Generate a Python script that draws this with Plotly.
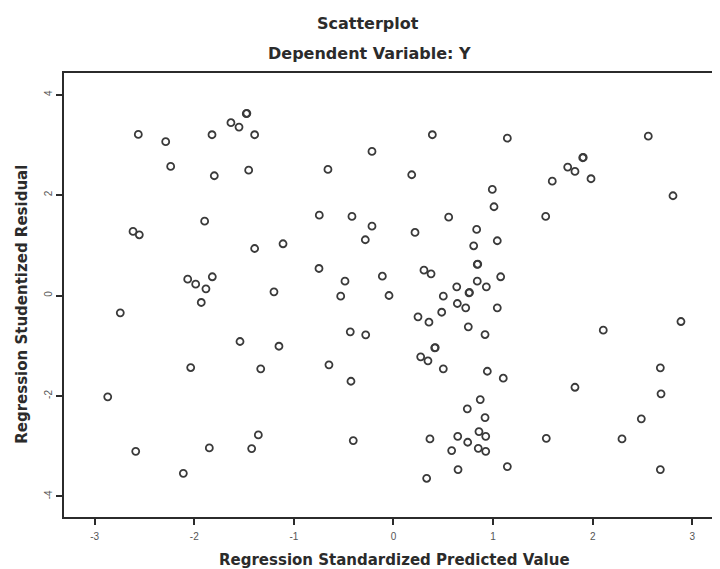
import plotly.graph_objects as go

# Regression Standardized Predicted Value (x) and Studentized Residual (y)
predicted = [
    -2.562, -2.287, -2.237, -1.822, -1.799, -1.632, -1.551, -1.478, -1.472, -1.394,
    -1.454, -1.896, -2.615, -2.552, -1.394, -2.066, -1.986, -1.883, -1.819, -1.200,
    -1.930, -2.743, -1.541, -2.036, -1.333, -1.150, -2.869, -2.588, -1.849, -1.424,
    -1.357, -2.110, 0.390, -0.216, -0.658, 0.183, -0.745, -0.417, -0.216, -0.283,
    0.216, 0.554, 0.835, 0.805, 0.841, 0.846, 0.306, 0.377, -1.109, -0.748,
    -0.487, -0.112, 0.841, 0.635, 0.758, 0.763, 0.932, 0.500, -0.530, -0.045,
    0.641, 0.725, 0.484, 0.246, 0.356, 0.751, 0.919, -0.434, -0.279, -0.648,
    -0.427, 0.414, 0.419, 0.273, 0.346, 0.500, 0.942, -0.404, 0.871, 0.741,
    0.919, 0.858, 0.926, 0.645, 0.745, 0.584, 0.851, 0.926, 0.366, 0.648,
    0.333, 1.143, 2.558, 1.900, 1.905, 1.749, 1.822, 1.983, 1.594, 0.992,
    1.009, 2.806, 1.528, 1.042, 1.076, 1.042, 2.106, 2.886, 1.102, 1.822,
    2.679, 2.686, 2.488, 1.534, 2.294, 1.143, 2.679,
]
residual = [
    3.207, 3.062, 2.570, 3.201, 2.384, 3.440, 3.353, 3.620, 3.628, 3.201,
    2.496, 1.480, 1.275, 1.209, 0.936, 0.325, 0.225, 0.133, 0.373, 0.074,
    -0.139, -0.345, -0.916, -1.434, -1.460, -1.010, -2.018, -3.102, -3.034, -3.048,
    -2.775, -3.540, 3.201, 2.869, 2.510, 2.404, 1.600, 1.574, 1.380, 1.110,
    1.255, 1.560, 1.315, 0.990, 0.618, 0.626, 0.504, 0.432, 1.030, 0.538,
    0.285, 0.384, 0.285, 0.173, 0.054, 0.060, 0.173, -0.014, -0.014, 0.000,
    -0.159, -0.245, -0.333, -0.424, -0.532, -0.624, -0.777, -0.723, -0.783, -1.380,
    -1.707, -1.042, -1.036, -1.221, -1.301, -1.460, -1.508, -2.888, -2.072, -2.257,
    -2.430, -2.709, -2.803, -2.803, -2.922, -3.088, -3.042, -3.102, -2.855, -3.466,
    -3.639, 3.133, 3.173, 2.743, 2.750, 2.556, 2.470, 2.325, 2.277, 2.112,
    1.767, 1.986, 1.574, 1.090, 0.373, -0.245, -0.691, -0.518, -1.647, -1.827,
    -1.440, -1.958, -2.456, -2.843, -2.855, -3.406, -3.466,
]

x_tickvals = [-3, -2, -1, 0, 1, 2, 3]
x_ticktext = ["-3", "-2", "-1", "0", "1", "2", "3"]
y_tickvals = [4, 2, 0, -2, -4]
y_ticktext = ["4", "2", "0", "-2", "-4"]

title_text = "Scatterplot"
subtitle_text = "Dependent Variable: Y"
x_title = "Regression Standardized Predicted Value"
y_title = "Regression Studentized Residual"

ink = "#2b2b2b"
title_font = "DejaVu Sans, Verdana, sans-serif"
tick_font = "Liberation Sans, Arial, sans-serif"

fig = go.Figure()
fig.add_trace(go.Scatter(
    x=predicted, y=residual, mode="markers",
    marker=dict(symbol="circle-open", size=7, color="#3a3a3a",
                line=dict(width=1.8, color="#3a3a3a")),
    showlegend=False, hoverinfo="x+y",
))

fig.update_layout(
    width=712, height=561, autosize=False,
    margin=dict(l=56, r=0, t=65, b=52),
    paper_bgcolor="white", plot_bgcolor="white",
    font=dict(family=tick_font, color=ink),
    xaxis=dict(range=[-3.308, 3.278], tickvals=x_tickvals, ticktext=x_ticktext,
               showgrid=False, zeroline=False, showline=True, linecolor=ink,
               linewidth=2, mirror=True, ticks="outside", ticklen=6,
               tickwidth=1.5, tickcolor=ink, ticklabelstandoff=3,
               tickfont=dict(size=10, color="#555")),
    yaxis=dict(range=[-4.41, 4.43], tickvals=y_tickvals, ticktext=y_ticktext,
               showgrid=False, zeroline=False, showline=True, linecolor=ink,
               linewidth=2, mirror=False, ticks="outside", ticklen=6,
               tickwidth=1.5, tickcolor=ink, tickangle=-90,
               tickfont=dict(size=10, color="#555")),
    annotations=[
        dict(text="<b>%s</b>" % title_text, xref="paper", yref="paper",
             x=0.4627, y=1.111, xanchor="center", yanchor="middle",
             showarrow=False, font=dict(family=title_font, size=16, color=ink)),
        dict(text="<b>%s</b>" % subtitle_text, xref="paper", yref="paper",
             x=0.465, y=1.044, xanchor="center", yanchor="middle",
             showarrow=False, font=dict(family=title_font, size=16, color=ink)),
        dict(text="<b>%s</b>" % x_title, xref="paper", yref="paper",
             x=0.5037, y=-0.0968, xanchor="center", yanchor="middle",
             showarrow=False, font=dict(family=title_font, size=15, color=ink)),
        dict(text="<b>%s</b>" % y_title, xref="paper", yref="paper",
             x=-0.0633, y=0.479, xanchor="center", yanchor="middle",
             textangle=-90, showarrow=False,
             font=dict(family=title_font, size=15, color=ink)),
    ],
)

fig.write_html("out.html")
